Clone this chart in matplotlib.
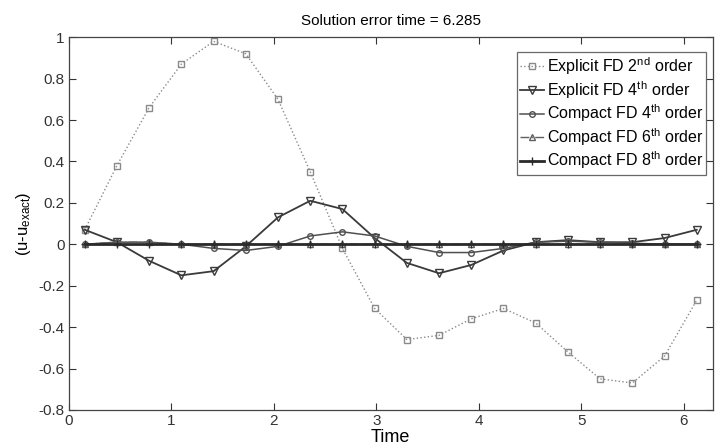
import numpy as np
import matplotlib.pyplot as plt

plt.rcParams['font.family'] = ['Liberation Sans', 'DejaVu Sans']
plt.rcParams['mathtext.fontset'] = 'custom'
plt.rcParams['mathtext.rm'] = 'Liberation Sans'
plt.rcParams['mathtext.it'] = 'Liberation Sans'

# sample times (cell centres on [0, 2*pi])
time = (np.arange(20) + 0.5) * np.pi / 10

err_explicit2 = [0.07, 0.38, 0.66, 0.87, 0.98, 0.92, 0.70, 0.35, -0.02, -0.31,
                 -0.46, -0.44, -0.36, -0.31, -0.38, -0.52, -0.65, -0.67, -0.54, -0.27]
err_explicit4 = [0.07, 0.01, -0.08, -0.15, -0.13, -0.01, 0.13, 0.21, 0.17, 0.03,
                 -0.09, -0.14, -0.10, -0.03, 0.01, 0.02, 0.01, 0.01, 0.03, 0.07]
err_compact4 = [0.0, 0.01, 0.01, 0.0, -0.02, -0.03, -0.01, 0.04, 0.06, 0.04,
                -0.01, -0.04, -0.04, -0.02, 0.01, 0.015, 0.01, 0.005, 0.0, 0.0]
err_compact6 = [0.0, 0.01, 0.01, 0.0, 0.0, 0.0, 0.0, 0.0, 0.0, 0.0,
                0.0, 0.0, 0.0, 0.0, 0.0, 0.0, 0.0, 0.0, 0.0, 0.0]
err_compact8 = [0.0] * 20

fig = plt.figure(figsize=(7.15, 4.48), dpi=100)
ax = fig.add_axes([0.096, 0.085, 0.901, 0.832])

ax.plot(time, err_explicit2, ls=':', color='#8a8a8a', lw=1.0, marker='s', ms=4,
        mfc='none', mec='#8a8a8a', label='Explicit FD 2$^{\\rm nd}$ order')
ax.plot(time, err_explicit4, ls='-', color='#3a3a3a', lw=1.3, marker='v', ms=6,
        mfc='none', mec='#3a3a3a', label='Explicit FD 4$^{\\rm th}$ order')
ax.plot(time, err_compact4, ls='-', color='#505050', lw=1.1, marker='o', ms=4,
        mfc='none', mec='#505050', label='Compact FD 4$^{\\rm th}$ order')
ax.plot(time, err_compact6, ls='-.', color='#606060', lw=1.0, marker='^', ms=4,
        mfc='none', mec='#606060', label='Compact FD 6$^{\\rm th}$ order')
ax.plot(time, err_compact8, ls='-', color='#2a2a2a', lw=2.0, marker='+', ms=6,
        mec='#2a2a2a', label='Compact FD 8$^{\\rm th}$ order')

ax.set_xlim(0, 2 * np.pi)
ax.set_ylim(-0.8, 1.0)
ax.set_xticks(range(7))
ax.set_xticklabels([str(i) for i in range(7)])
ax.set_yticks(np.arange(-0.8, 1.01, 0.2))
ax.set_yticklabels(['-0.8', '-0.6', '-0.4', '-0.2', '0', '0.2', '0.4', '0.6', '0.8', '1'])
ax.tick_params(direction='in', top=True, right=True, labelsize=11, length=5,
               colors='#333333', pad=3)
for s in ax.spines.values():
    s.set_color('#444444')
    s.set_linewidth(0.9)

ax.set_title('Solution error time = 6.285', fontsize=11, pad=9)
ax.set_xlabel('Time', fontsize=13, labelpad=1)
ax.set_ylabel('(u-u$_{\\rm exact}$)', fontsize=12, labelpad=4)

leg = ax.legend(loc='upper right', bbox_to_anchor=(0.99, 0.96), fontsize=11.5,
                frameon=True, fancybox=False, edgecolor='#444444',
                handlelength=1.5, handletextpad=0.15, borderpad=0.2,
                labelspacing=0.12, borderaxespad=0)
leg.get_frame().set_linewidth(0.9)

fig.savefig('out.png', dpi=100)
